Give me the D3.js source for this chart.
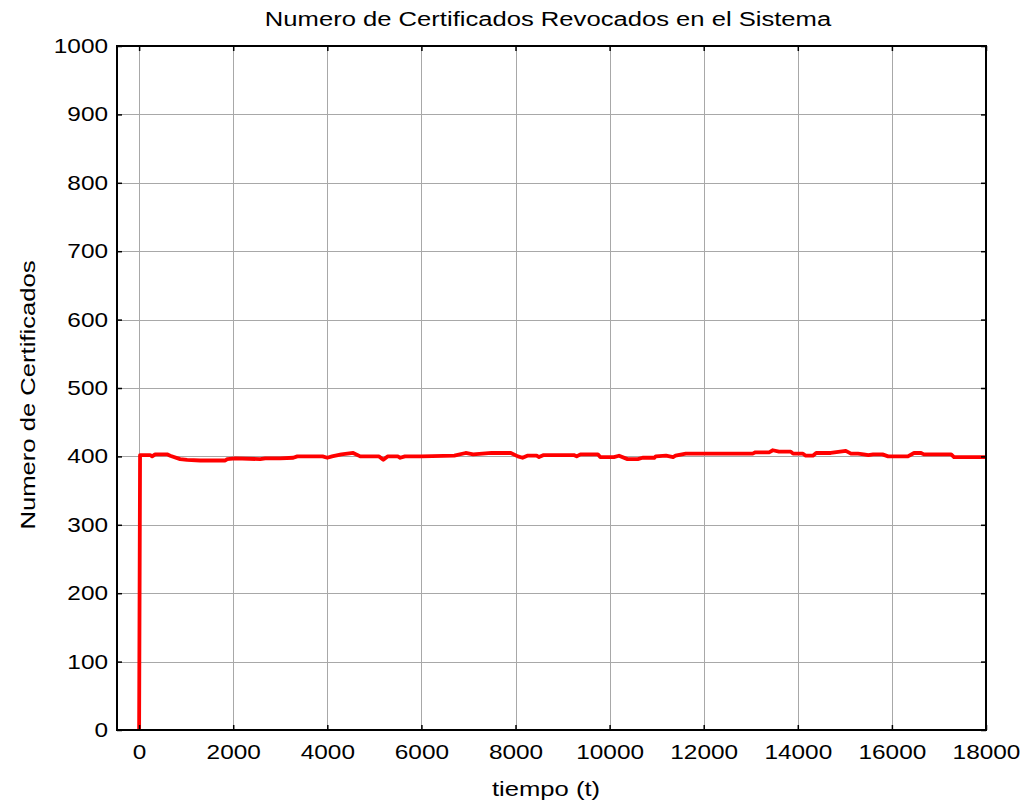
<!DOCTYPE html>
<html>
<head>
<meta charset="utf-8">
<script src="https://cdn.jsdelivr.net/npm/d3@7"></script>
<style>
body { margin: 0; background: #fff; }
svg { display: block; }
text { font-family: "Liberation Sans", Arial, sans-serif; fill: #000; }
</style>
</head>
<body>
<svg id="chart" width="1030" height="805"></svg>
<script>
const title = "Numero de Certificados Revocados en el Sistema";
const xLabel = "tiempo (t)";
const yLabel = "Numero de Certificados";
const xTicks = [0, 2000, 4000, 6000, 8000, 10000, 12000, 14000, 16000, 18000];
const yTicks = [0, 100, 200, 300, 400, 500, 600, 700, 800, 900, 1000];
const tValues = [0, 20, 234, 277, 340, 596, 660, 872, 1021, 1298, 1830, 1873, 2043, 2575, 2681, 3000, 3277, 3362, 3532,
  3900, 4000, 4100, 4300, 4550, 4700, 5100, 5190, 5280, 5500, 5550, 5650, 6000, 6700, 6940, 7100, 7490, 7530, 7900,
  8050, 8150, 8250, 8450, 8500, 8600, 9240, 9300, 9380, 9750, 9800, 10090, 10200, 10380, 10600, 10700, 10950, 10980,
  11200, 11350, 11400, 11620, 11980, 13040, 13100, 13390, 13470, 13600, 13850, 13900, 14110, 14170, 14320, 14390,
  14700, 15020, 15130, 15280, 15400, 15500, 15600, 15800, 15920, 16340, 16470, 16620, 16680, 17260, 17320, 18000];
const nValues = [0, 402, 402, 400, 403, 403, 401, 396, 395, 394, 394, 396, 397, 396, 397, 397, 398, 400, 400,
  400, 398, 400, 403, 405, 400, 400, 395, 400, 400, 398, 400, 400, 401, 405, 403, 405, 405, 405,
  400, 398, 401, 401, 399, 402, 402, 400, 403, 403, 399, 399, 401, 396, 396, 398, 398, 400,
  401, 399, 401, 404, 404, 404, 406, 406, 409, 407, 407, 404, 404, 401, 401, 405,
  405, 408, 404, 404, 403, 402, 403, 403, 400, 400, 405, 405, 403, 403, 399, 399];

const svg = d3.select("#chart");
const m = { left: 117, right: 986, top: 46, bottom: 730 };
const x = d3.scaleLinear().domain([-470, 18000]).range([m.left, m.right]);
const y = d3.scaleLinear().domain([0, 1000]).range([m.bottom, m.top]);
const SX = 1.22; // glyph width factor of the reference font

// grid
const grid = svg.append("g");
grid.selectAll(".gx").data(xTicks).enter().append("line")
  .attr("x1", d => Math.round(x(d)) + 0.5).attr("x2", d => Math.round(x(d)) + 0.5)
  .attr("y1", m.top).attr("y2", m.bottom)
  .attr("stroke", "#a8a8a8").attr("stroke-width", 1);
grid.selectAll(".gy").data(yTicks).enter().append("line")
  .attr("y1", d => Math.round(y(d)) + 0.5).attr("y2", d => Math.round(y(d)) + 0.5)
  .attr("x1", m.left).attr("x2", m.right)
  .attr("stroke", "#a8a8a8").attr("stroke-width", 1);

// data line
const data = tValues.map((t, i) => ({ t, n: nValues[i] }));
svg.append("path").datum(data)
  .attr("fill", "none").attr("stroke", "#ff0000").attr("stroke-width", 3.8)
  .attr("stroke-linejoin", "round")
  .attr("d", d3.line().x(d => x(d.t)).y(d => y(d.n)));

// axes with inward ticks
const tickLen = 5;
const axB = svg.append("g").attr("transform", `translate(0,${m.bottom})`)
  .call(d3.axisBottom(x).tickValues(xTicks).tickSizeInner(-tickLen).tickSizeOuter(0).tickPadding(15).tickFormat(d3.format("d")));
const axT = svg.append("g").attr("transform", `translate(0,${m.top})`)
  .call(d3.axisTop(x).tickValues(xTicks).tickSizeInner(-tickLen).tickSizeOuter(0).tickFormat(""));
const axL = svg.append("g").attr("transform", `translate(${m.left},0)`)
  .call(d3.axisLeft(y).tickValues(yTicks).tickSizeInner(-tickLen).tickSizeOuter(0).tickFormat(d3.format("d")));
const axR = svg.append("g").attr("transform", `translate(${m.right},0)`)
  .call(d3.axisRight(y).tickValues(yTicks).tickSizeInner(-tickLen).tickSizeOuter(0).tickFormat(""));
[axB, axT, axL, axR].forEach(a => {
  a.select(".domain").remove();
  a.selectAll("line").attr("stroke", "#000").attr("stroke-width", 1.5);
  a.selectAll("text").style("font-size", "20px").style("font-family", "Liberation Sans, Arial, sans-serif")
    .attr("fill", "#000").attr("transform", `scale(${SX},1)`);
});
axL.selectAll("text").attr("x", -9 / SX);

// box
svg.append("rect").attr("x", m.left).attr("y", m.top)
  .attr("width", m.right - m.left).attr("height", m.bottom - m.top)
  .attr("fill", "none").attr("stroke", "#000").attr("stroke-width", 2);

// labels
svg.append("text").attr("transform", `translate(548,26) scale(${SX},1)`)
  .attr("text-anchor", "middle").style("font-size", "21px").text(title);
svg.append("text").attr("transform", `translate(546,796) scale(${SX},1)`)
  .attr("text-anchor", "middle").style("font-size", "21px").text(xLabel);
svg.append("text").attr("transform", `translate(35,395) rotate(-90) scale(${SX},1)`)
  .attr("text-anchor", "middle").style("font-size", "21px").text(yLabel);
</script>
</body>
</html>
